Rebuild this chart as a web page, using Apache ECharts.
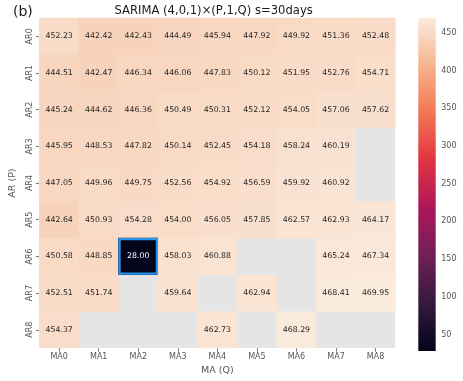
<!DOCTYPE html>
<html>
<head>
<meta charset="utf-8">
<script src="https://cdn.jsdelivr.net/npm/echarts@6/dist/echarts.min.js"></script>
<style>
html,body{margin:0;padding:0;background:#fff;}
#chart{width:463px;height:381px;}
</style>
</head>
<body>
<div id="chart"></div>
<script>
var maLabels = ['MA0','MA1','MA2','MA3','MA4','MA5','MA6','MA7','MA8'];
var arLabels = ['AR0','AR1','AR2','AR3','AR4','AR5','AR6','AR7','AR8'];
var ar0 = [452.23, 442.42, 442.43, 444.49, 445.94, 447.92, 449.92, 451.36, 452.48];
var ar1 = [444.51, 442.47, 446.34, 446.06, 447.83, 450.12, 451.95, 452.76, 454.71];
var ar2 = [445.24, 444.62, 446.36, 450.49, 450.31, 452.12, 454.05, 457.06, 457.62];
var ar3 = [445.95, 448.53, 447.82, 450.14, 452.45, 454.18, 458.24, 460.19, null];
var ar4 = [447.05, 449.96, 449.75, 452.56, 454.92, 456.59, 459.92, 460.92, null];
var ar5 = [442.64, 450.93, 454.28, 454.00, 456.05, 457.85, 462.57, 462.93, 464.17];
var ar6 = [450.58, 448.85, 28.00, 458.03, 460.88, null, null, 465.24, 467.34];
var ar7 = [452.51, 451.74, null, 459.64, null, 462.94, null, 468.41, 469.95];
var ar8 = [454.37, null, null, null, 462.73, null, 468.29, null, null];
var highlightCell = ['MA2', 'AR6'];
var colorbarTicks = [50, 100, 150, 200, 250, 300, 350, 400, 450];
var titleText = 'SARIMA (4,0,1)\u00d7(P,1,Q) s=30days';
var panelText = '(b)';

var rows = [ar0, ar1, ar2, ar3, ar4, ar5, ar6, ar7, ar8];
var rocket = ['#03051a', '#35193e', '#701f57', '#ad1759', '#e13342', '#f37651', '#f6b48f', '#faebdd'];
var FONT = 'DejaVu Sans';

var data = [];
var vmin = Infinity, vmax = -Infinity;
rows.forEach(function (row, r) {
  row.forEach(function (v, c) {
    if (v === null) return;
    vmin = Math.min(vmin, v); vmax = Math.max(vmax, v);
    data.push({
      value: [c, r, v],
      label: { color: v < 250 ? '#ffffff' : '#262626' }
    });
  });
});

var stops = rocket.map(function (col, i) { return { offset: i / (rocket.length - 1), color: col }; });

var gridL = 32, gridR = 395.3, gridT = 18, gridB = 351;

var chart = echarts.init(document.getElementById('chart'), null, { renderer: 'canvas' });
chart.setOption({
  animation: false,
  backgroundColor: '#ffffff',
  textStyle: { fontFamily: FONT },
  graphic: [
    { type: 'text', style: { x: (gridL + gridR) / 2, y: 10.5, text: titleText, textAlign: 'center', textVerticalAlign: 'middle', fontSize: 11.6, fontFamily: FONT, fill: '#1a1a1a' } },
    { type: 'text', style: { x: 13, y: 12.5, text: panelText, textAlign: 'left', textVerticalAlign: 'middle', fontSize: 14, fontFamily: FONT, fill: '#1a1a1a' } }
  ],
  grid: [
    { left: gridL, top: gridT, width: gridR - gridL, height: gridB - gridT, show: true, backgroundColor: '#e5e5e5', borderWidth: 0 },
    { left: 418.3, top: gridT, width: 17.4, height: gridB - gridT, show: false }
  ],
  xAxis: [
    {
      type: 'category', data: maLabels, gridIndex: 0,
      name: 'MA (Q)', nameLocation: 'middle', nameGap: 14,
      nameTextStyle: { fontSize: 9.5, color: '#555555', fontFamily: FONT },
      axisLine: { show: false },
      axisTick: { show: true, alignWithLabel: true, length: 3.5, lineStyle: { color: '#555555', width: 0.8 } },
      axisLabel: { fontSize: 8, color: '#555555', margin: 5, fontFamily: FONT },
      splitLine: { show: false }
    },
    { type: 'value', gridIndex: 1, min: 0, max: 1, show: false }
  ],
  yAxis: [
    {
      type: 'category', data: arLabels, gridIndex: 0, inverse: true,
      name: 'AR (P)', nameLocation: 'middle', nameGap: 16, nameRotate: 90,
      nameTextStyle: { fontSize: 9.5, color: '#555555', fontFamily: FONT },
      axisLine: { show: false },
      axisTick: { show: true, alignWithLabel: true, length: 3.5, lineStyle: { color: '#555555', width: 0.8 } },
      axisLabel: { fontSize: 8, color: '#555555', margin: 5.5, rotate: 90, fontFamily: FONT },
      splitLine: { show: false }
    },
    {
      type: 'value', gridIndex: 1, position: 'right', min: vmin, max: vmax,
      axisLine: { show: false },
      axisTick: { show: true, length: 3, customValues: colorbarTicks, lineStyle: { color: '#555555', width: 0.8 } },
      axisLabel: { show: true, customValues: colorbarTicks, fontSize: 8, color: '#555555', margin: 5.5, fontFamily: FONT },
      splitLine: { show: false }
    }
  ],
  visualMap: {
    show: false, type: 'continuous', min: vmin, max: vmax, dimension: 2, seriesIndex: 0,
    inRange: { color: rocket }
  },
  series: [
    {
      type: 'heatmap', xAxisIndex: 0, yAxisIndex: 0, data: data,
      label: { show: true, fontSize: 7.8, fontFamily: FONT, formatter: function (p) { return p.value[2].toFixed(2); } },
      itemStyle: { borderWidth: 0 },
      emphasis: { disabled: true }
    },
    {
      type: 'custom', xAxisIndex: 0, yAxisIndex: 0, z: 10,
      data: [[maLabels.indexOf(highlightCell[0]), arLabels.indexOf(highlightCell[1])]],
      renderItem: function (params, api) {
        var c = api.coord([api.value(0), api.value(1)]);
        var s = api.size([1, 1]);
        return { type: 'rect', shape: { x: c[0] - s[0] / 2 + 1.1, y: c[1] - s[1] / 2 + 1.1, width: s[0] - 2.2, height: s[1] - 2.2 },
          style: { fill: null, stroke: '#2a93ee', lineWidth: 2.2 } };
      }
    },
    {
      type: 'custom', xAxisIndex: 1, yAxisIndex: 1,
      data: [[0, vmin, 1, vmax]],
      renderItem: function (params, api) {
        var p0 = api.coord([api.value(0), api.value(1)]);
        var p1 = api.coord([api.value(2), api.value(3)]);
        return { type: 'rect', shape: { x: p0[0], y: p1[1], width: p1[0] - p0[0], height: p0[1] - p1[1] },
          style: { fill: new echarts.graphic.LinearGradient(0, 1, 0, 0, stops), stroke: null } };
      }
    }
  ]
});
</script>
</body>
</html>
